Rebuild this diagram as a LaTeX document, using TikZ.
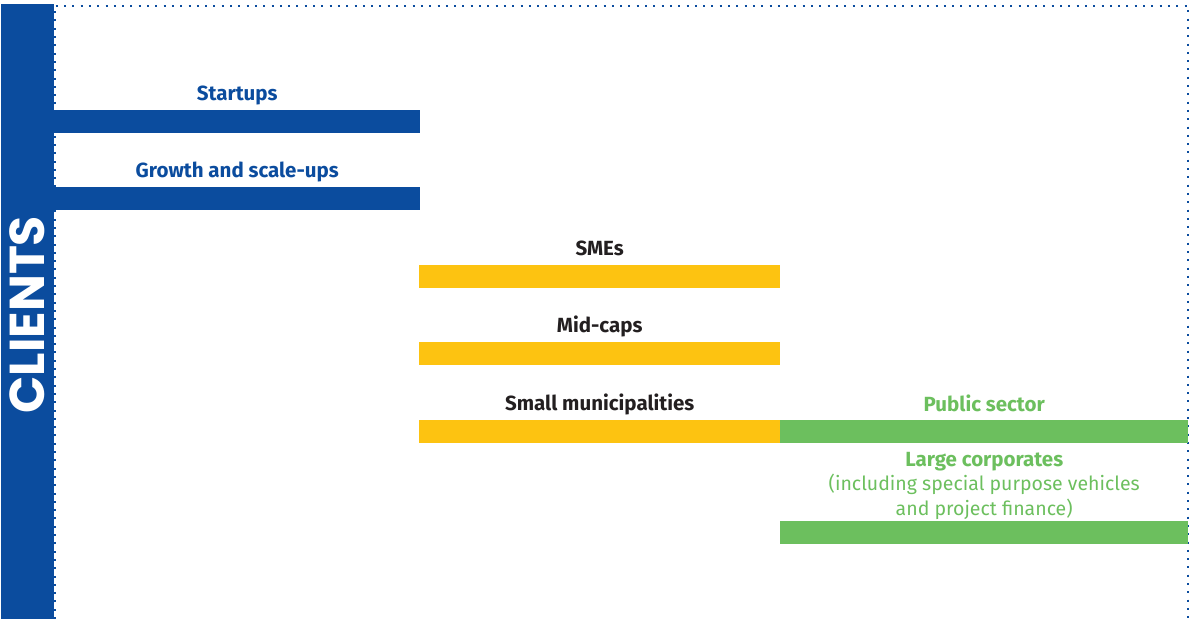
\documentclass[tikz,border=0pt]{standalone}
\usepackage{fontspec}
\setmainfont{Fira Sans}
\newfontfamily\clientsfont{Poppins}
\usetikzlibrary{positioning}
\definecolor{clientblue}{HTML}{0B4C9E}
\definecolor{clientyellow}{HTML}{FDC311}
\definecolor{clientgreen}{HTML}{6CBF5E}
\definecolor{clienttext}{HTML}{231F20}

\begin{document}
\begin{tikzpicture}[x=1pt, y=-1pt,
bluebar/.style={rectangle, fill=clientblue, minimum width=366pt, minimum height=23pt, inner sep=0pt, anchor=north west},
yellowbar/.style={rectangle, fill=clientyellow, minimum width=361pt, minimum height=23pt, inner sep=0pt, anchor=north west},
greenbar/.style={rectangle, fill=clientgreen, minimum width=408pt, minimum height=23pt, inner sep=0pt, anchor=north west},
bluelabel/.style={text=clientblue, font=\fontsize{20.5}{24}\selectfont\bfseries, inner sep=0pt, text depth=5pt},
yellowlabel/.style={text=clienttext, font=\fontsize{20.5}{24}\selectfont\bfseries, inner sep=0pt, text depth=5pt},
greenlabel/.style={text=clientgreen, font=\fontsize{19.5}{24.5}\selectfont, inner sep=0pt, align=center},
]
\useasboundingbox (0,0) rectangle (1192,619);

%Frame
\draw[clientblue, line width=2pt, dash pattern=on 2pt off 6.3pt] (55,619) -- (55,5.5) -- (1188,5.5) -- (1188,619);

%Nodes
\node[rectangle, fill=clientblue, minimum width=53pt, minimum height=615pt, inner sep=0pt, anchor=north west] (clients) at (1,4) {};
\node[rotate=90, text=white, font=\clientsfont\bfseries\fontsize{49}{49}\selectfont, inner sep=0pt] (clientstext) at ([yshift=-3pt]clients.center) {CLIENTS};

\node[bluebar]      (startbar)   at (54,110)   {};
\node[bluelabel]    (start)      [above=4pt of startbar]   {Startups};
\node[bluebar]      (growthbar)  at (54,187)   {};
\node[bluelabel]    (growth)     [above=4pt of growthbar]  {Growth and scale-ups};

\node[yellowbar]    (smebar)     at (419,265)  {};
\node[yellowlabel]  (sme)        [above=4pt of smebar]     {SMEs};
\node[yellowbar]    (midbar)     at (419,342)  {};
\node[yellowlabel]  (mid)        [above=4pt of midbar]     {Mid-caps};
\node[yellowbar]    (munibar)    at (419,420)  {};
\node[yellowlabel]  (muni)       [above=4pt of munibar]    {Small municipalities};

\node[greenbar]     (publicbar)  at (780,420)  {};
\node[greenlabel]   (public)     [above=3.5pt of publicbar, text depth=5pt, font=\fontsize{20.5}{24}\selectfont\bfseries]  {Public sector};
\node[greenbar]     (corpbar)    at (780,521)  {};
\node[greenlabel]   (corp)       [above=1.5pt of corpbar]    {{\fontsize{20.5}{24.5}\selectfont\bfseries Large corporates}\\(including special purpose vehicles\\and project finance)};
\end{tikzpicture}
\end{document}
